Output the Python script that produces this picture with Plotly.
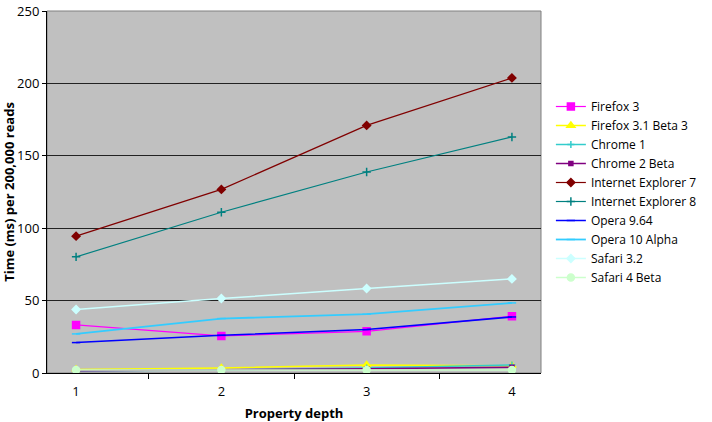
import plotly.graph_objects as go

depths = ["1", "2", "3", "4"]

firefox3 = [33.2, 25.6, 28.8, 39.2]
firefox31b3 = [2.5, 3.5, 5.5, 5.0]
chrome1 = [1.5, 2.0, 3.5, 5.5]
chrome2b = [1.5, 2.0, 3.0, 4.0]
ie7 = [94.5, 126.8, 171.0, 203.8]
ie8 = [80.2, 111.0, 138.8, 163.0]
opera964 = [21.0, 26.0, 30.0, 38.7]
opera10a = [27.0, 37.6, 40.6, 48.4]
safari32 = [43.8, 51.4, 58.4, 65.0]
safari4b = [2.0, 2.0, 2.0, 2.0]

series = [
    ("Firefox 3", firefox3, "#FF00FF", "square", 7, 1.2),
    ("Firefox 3.1 Beta 3", firefox31b3, "#FFFF00", "triangle-up", 7, 1.5),
    ("Chrome 1", chrome1, "#33CCCC", "cross-thin-open", 5, 1.5),
    ("Chrome 2 Beta", chrome2b, "#800080", "square", 4, 1.5),
    ("Internet Explorer 7", ie7, "#800000", "diamond", 6, 1.2),
    ("Internet Explorer 8", ie8, "#008080", "cross-thin-open", 6, 1.2),
    ("Opera 9.64", opera964, "#0000FF", "line-ew-open", 6, 1.5),
    ("Opera 10 Alpha", opera10a, "#33CCFF", "line-ew-open", 6, 1.8),
    ("Safari 3.2", safari32, "#CCFFFF", "diamond", 6, 1.5),
    ("Safari 4 Beta", safari4b, "#CCFFCC", "circle", 7, 1.5),
]

fig = go.Figure()
for name, vals, color, sym, size, lw in series:
    fig.add_trace(go.Scatter(
        x=depths, y=vals, name=name, mode="lines+markers",
        line=dict(color=color, width=lw),
        marker=dict(symbol=sym, size=size, color=color,
                    line=dict(color=color, width=1.5)),
    ))

fig.update_layout(
    template="none",
    width=712, height=422,
    margin=dict(l=47, r=171, t=11, b=49, autoexpand=False),
    paper_bgcolor="white",
    plot_bgcolor="#C0C0C0",
    font=dict(family="Open Sans, Lato, sans-serif", size=13, color="black"),
    showlegend=True,
    legend=dict(
        x=1.02, xanchor="left", y=0.5, yanchor="middle",
        bgcolor="rgba(0,0,0,0)", font=dict(size=12),
        tracegroupgap=0, itemwidth=30,
    ),
    xaxis=dict(
        type="category", automargin=False,
        title=dict(text="<b>Property depth</b>", font=dict(size=13)),
        tickson="boundaries", ticks="outside", ticklen=5, tickcolor="black",
        ticklabelstandoff=6,
        showline=True, linecolor="black", linewidth=1, mirror=False,
        showgrid=False, zeroline=False,
    ),
    yaxis=dict(
        automargin=False,
        title=dict(text="<b>Time (ms) per 200,000 reads</b>", font=dict(size=13), standoff=10),
        range=[0, 250], dtick=50, ticks="outside", ticklen=4, tickcolor="black",
        showline=True, linecolor="black", linewidth=1,
        showgrid=True, gridcolor="#222222", gridwidth=1, zeroline=False,
    ),
    shapes=[dict(type="rect", xref="paper", yref="paper", x0=0, x1=1, y0=0, y1=1,
                 line=dict(color="#808080", width=1), fillcolor="rgba(0,0,0,0)", layer="below")],
)

fig.write_html("out.html", config={"displayModeBar": False},
               post_script="document.body.style.margin='0';")
